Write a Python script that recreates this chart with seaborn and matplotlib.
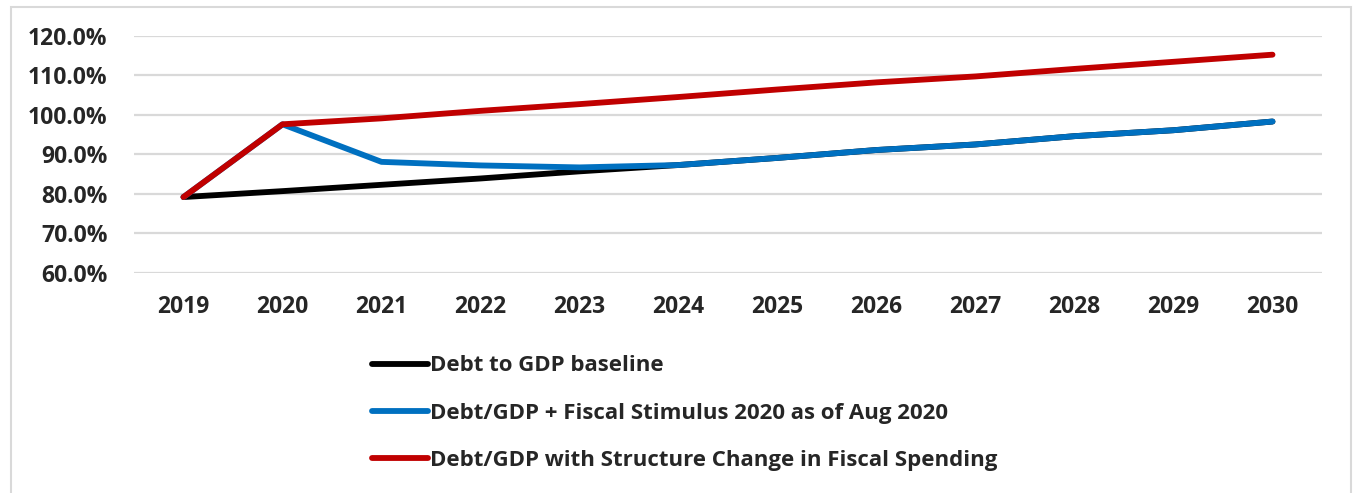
import matplotlib
matplotlib.use("Agg")
import matplotlib.pyplot as plt
import matplotlib.patches as mpatches
from matplotlib.ticker import FuncFormatter
import seaborn as sns
import pandas as pd

years = [2019, 2020, 2021, 2022, 2023, 2024, 2025, 2026, 2027, 2028, 2029, 2030]
baseline = [79.2, 80.7, 82.3, 83.9, 85.7, 87.3, 89.1, 91.1, 92.5, 94.6, 96.1, 98.3]
stimulus = [79.2, 97.6, 88.1, 87.2, 86.7, 87.3, 89.1, 91.1, 92.5, 94.6, 96.1, 98.3]
structural = [79.2, 97.6, 99.1, 101.0, 102.7, 104.5, 106.4, 108.2, 109.7, 111.6, 113.4, 115.2]

series_names = [
    "Debt to GDP baseline",
    "Debt/GDP + Fiscal Stimulus 2020 as of Aug 2020",
    "Debt/GDP with Structure Change in Fiscal Spending",
]
series_colors = ["#000000", "#0070C0", "#C00000"]
y_ticks = [60, 70, 80, 90, 100, 110, 120]

frames = []
for name, vals in zip(series_names, [baseline, stimulus, structural]):
    frames.append(pd.DataFrame({"Year": years, "Value": vals, "Series": name}))
df = pd.concat(frames, ignore_index=True)

sns.set_style("white")
plt.rcParams["font.family"] = ["Open Sans", "DejaVu Sans"]
plt.rcParams["font.weight"] = "bold"

W, H = 1356, 493
fig = plt.figure(figsize=(W / 100, H / 100), dpi=100)
ax = fig.add_axes([134 / W, 1 - 273 / H, (1322 - 134) / W, (273 - 35.7) / H])

sns.lineplot(
    data=df, x="Year", y="Value", hue="Series",
    palette=dict(zip(series_names, series_colors)),
    hue_order=series_names, linewidth=4.2, ax=ax,
    solid_capstyle="round", solid_joinstyle="round", legend=False,
)

ax.set_xlim(years[0] - 0.5, years[-1] + 0.5)
ax.set_ylim(60, 120)
ax.set_yticks(y_ticks)
ax.set_xticks(years)
ax.set_xticklabels([str(y) for y in years])
ax.yaxis.set_major_formatter(FuncFormatter(lambda v, p: f"{v:.1f}%"))
ax.grid(axis="y", color="#D9D9D9", linewidth=1.6)
ax.set_axisbelow(True)
for s in ax.spines.values():
    s.set_visible(False)
ax.tick_params(axis="y", length=0, pad=19, labelsize=16.5)
ax.tick_params(axis="x", length=0, pad=16, labelsize=16.5)
for lab in ax.get_xticklabels() + ax.get_yticklabels():
    lab.set_fontweight("bold")
ax.set_xlabel("")
ax.set_ylabel("")

handles = [
    plt.Line2D([], [], color=c, linewidth=4.2, solid_capstyle="round")
    for c in series_colors
]
leg = fig.legend(
    handles, series_names, loc="center left",
    bbox_to_anchor=(352 / W, 1 - 413 / H), frameon=False,
    handlelength=2.5, handletextpad=0.1, labelspacing=1.18,
    prop={"size": 16, "weight": "bold"},
)

# light chart-area border
fig.patches.append(mpatches.Rectangle(
    (10.5 / W, -0.05), (1350.5 - 10.5) / W, 1 - 7 / H + 0.05,
    transform=fig.transFigure, fill=False, edgecolor="#D9D9D9",
    linewidth=1.5, clip_on=False,
))

fig.savefig("out.png", dpi=100, facecolor="white")
